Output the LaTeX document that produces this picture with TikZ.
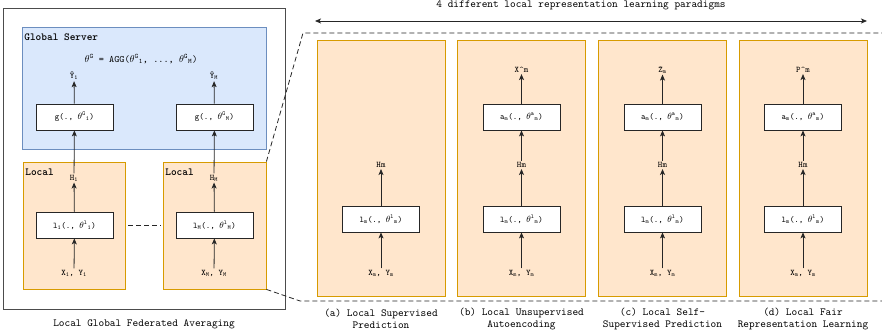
\documentclass[tikz,border=0pt]{standalone}
\usetikzlibrary{arrows.meta, positioning}
\definecolor{srvfill}{HTML}{DAE8FC}
\definecolor{srvline}{HTML}{6C8EBF}
\definecolor{locfill}{HTML}{FFE6CC}
\definecolor{locline}{HTML}{D79B00}
\newcommand{\thp}[2]{$\theta$\textsuperscript{#1}\textsubscript{#2}}

\begin{document}
\begin{tikzpicture}[x=1pt, y=-1pt, line width=0.8pt,
  txt/.style={font=\fontsize{10.8}{12}\selectfont\ttfamily, inner sep=1pt},
  lbl/.style={font=\fontsize{8.6}{10}\selectfont\ttfamily, inner sep=1pt},
  fn/.style={draw=black!85, fill=white, minimum width=77, minimum height=26, font=\fontsize{8.6}{10}\selectfont\ttfamily},
  server/.style={draw=srvline, fill=srvfill},
  local/.style={draw=locline, fill=locfill},
  arr/.style={-{Stealth[length=6pt, width=5pt, inset=1.5pt]}, draw=black!85},
  zoomline/.style={draw=black!85, dash pattern=on 5pt off 3pt}]

\useasboundingbox (0,0) rectangle (882,336);

% federated averaging
\node[draw=black!70, minimum width=282, minimum height=301] (fed) at (144,158.5) {};
\node[server, minimum width=244, minimum height=122] (srv) at (144,88) {};
\node[txt, anchor=west] (srvname) at (23,37) {\bfseries Global Server};
\node[lbl, font=\fontsize{9.8}{11}\selectfont\ttfamily] (agg) at (141,59) {$\theta$\textsuperscript{G} = AGG(\thp{G}{1}, ..., \thp{G}{M})};
\node[lbl] (yh1) at (74,76) {\^{Y}\textsubscript{1}};
\node[lbl] (yhM) at (214,76) {\^{Y}\textsubscript{M}};
\node[fn] (g1) at (74.5,117) {g(., \thp{G}{1})};
\node[fn] (gM) at (214.5,117) {g(., \thp{G}{M})};
\node[local, minimum width=102, minimum height=127] (loc1) at (74,225.5) {};
\node[local, minimum width=103, minimum height=127] (locM) at (214.5,225.5) {};
\node[txt, anchor=west] (locname1) at (24,172) {\bfseries Local};
\node[txt, anchor=west] (locnameM) at (164,172) {\bfseries Local};
\node[lbl] (h1) at (74,178) {H\textsubscript{1}};
\node[lbl] (hM) at (214,178) {H\textsubscript{M}};
\node[fn] (l1) at (74.5,225) {l\textsubscript{1}(., \thp{l}{1})};
\node[fn] (lM) at (214.5,225) {l\textsubscript{M}(., \thp{l}{M})};
\node[lbl] (x1) at (74,273) {X\textsubscript{1}, Y\textsubscript{1}};
\node[lbl] (xM) at (214,273) {X\textsubscript{M}, Y\textsubscript{M}};
\node[txt] (fedcap) at (144,324) {Local Global Federated Averaging};
\draw[arr] (x1) -- (l1);
\draw[arr] (l1) -- (h1);
\draw[arr] (h1) -- (g1);
\draw[arr] (g1) -- (yh1);
\draw[arr] (xM) -- (lM);
\draw[arr] (lM) -- (hM);
\draw[arr] (hM) -- (gM);
\draw[arr] (gM) -- (yhM);
\draw[zoomline, shorten <=15pt, shorten >=15pt] (l1) -- (lM);

% zoom lines
\coordinate (zt) at (303,33);
\coordinate (ztend) at (882,33);
\coordinate (zb) at (300,301);
\coordinate (zbend) at (882,301);
\draw[zoomline] (locM.north east) -- (zt) -- (ztend);
\draw[zoomline] (locM.south east) -- (zb) -- (zbend);

% paradigms
\coordinate (pl) at (315,21);
\coordinate (pr) at (867,21);
\draw[arr, {Stealth[length=6pt, width=5pt, inset=1.5pt]}-{Stealth[length=6pt, width=5pt, inset=1.5pt]}] (pl) -- (pr);
\node[txt] (paracap) at (581,5) {4 different local representation learning paradigms};

% (a)
\node[local, minimum width=128, minimum height=256] (pa) at (381,168) {};
\node[lbl] (hma) at (381,165) {Hm};
\node[fn] (lma) at (381,219) {l\textsubscript{m}(., \thp{l}{m})};
\node[lbl] (xma) at (381,273) {X\textsubscript{m}, Y\textsubscript{m}};
\node[txt, align=center] (capa) at (381,318.5) {(a) Local Supervised\\Prediction};
\draw[arr] (xma) -- (lma);
\draw[arr] (lma) -- (hma);

% (b)
\node[local, minimum width=128, minimum height=256] (pb) at (521.5,168) {};
\node[lbl] (outb) at (521.5,70) {X\textasciicircum m};
\node[fn] (amb) at (521.5,117) {a\textsubscript{m}(., \thp{a}{m})};
\node[lbl] (hmb) at (521.5,165) {Hm};
\node[fn] (lmb) at (521.5,219) {l\textsubscript{m}(., \thp{l}{m})};
\node[lbl] (xmb) at (521.5,273) {X\textsubscript{m}, Y\textsubscript{m}};
\node[txt, align=center] (capb) at (521.5,318.5) {(b) Local Unsupervised\\Autoencoding};
\draw[arr] (xmb) -- (lmb);
\draw[arr] (lmb) -- (hmb);
\draw[arr] (hmb) -- (amb);
\draw[arr] (amb) -- (outb);

% (c)
\node[local, minimum width=128, minimum height=256] (pc) at (662.5,168) {};
\node[lbl] (outc) at (662.5,70) {\^{Z}\textsubscript{m}};
\node[fn] (amc) at (662.5,117) {a\textsubscript{m}(., \thp{a}{m})};
\node[lbl] (hmc) at (662.5,165) {Hm};
\node[fn] (lmc) at (662.5,219) {l\textsubscript{m}(., \thp{l}{m})};
\node[lbl] (xmc) at (662.5,273) {X\textsubscript{m}, Y\textsubscript{m}};
\node[txt, align=center] (capc) at (662.5,318.5) {(c) Local Self-\\Supervised Prediction};
\draw[arr] (xmc) -- (lmc);
\draw[arr] (lmc) -- (hmc);
\draw[arr] (hmc) -- (amc);
\draw[arr] (amc) -- (outc);

% (d)
\node[local, minimum width=128, minimum height=256] (pd) at (803,168) {};
\node[lbl] (outd) at (803,70) {P\textasciicircum m};
\node[fn] (amd) at (803,117) {a\textsubscript{m}(., \thp{a}{m})};
\node[lbl] (hmd) at (803,165) {Hm};
\node[fn] (lmd) at (803,219) {l\textsubscript{m}(., \thp{l}{m})};
\node[lbl] (xmd) at (803,273) {X\textsubscript{m}, Y\textsubscript{m}};
\node[txt, align=center] (capd) at (803,318.5) {(d) Local Fair\\Representation Learning};
\draw[arr] (xmd) -- (lmd);
\draw[arr] (lmd) -- (hmd);
\draw[arr] (hmd) -- (amd);
\draw[arr] (amd) -- (outd);
\end{tikzpicture}
\end{document}
